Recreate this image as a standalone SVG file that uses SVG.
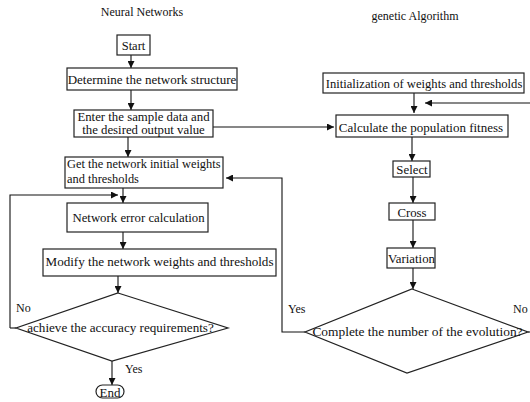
<svg xmlns="http://www.w3.org/2000/svg" width="530" height="402" viewBox="0 0 530 402">
<style>
text{font-family:"Liberation Serif","Times New Roman",serif;font-size:12.8px;fill:#111}
.t{font-size:12px}
.c{text-anchor:middle}
.box{fill:#fff;stroke:#222;stroke-width:1.2}
.ln{fill:none;stroke:#111;stroke-width:1.1}
</style>
<defs>
<marker id="ah" viewBox="0 0 10 10" refX="10" refY="5" markerWidth="7" markerHeight="7" markerUnits="userSpaceOnUse" orient="auto">
<path d="M0,0L10,5L0,10z" fill="#111"/>
</marker>
</defs>
<rect width="530" height="402" fill="#fff"/>
<text class="c t" x="142" y="16">Neural Networks</text>
<text class="c t" x="415" y="20">genetic Algorithm</text>
<g id="connectors">
<path class="ln" d="M131,55V68" marker-end="url(#ah)"/>
<path class="ln" d="M131,90V110" marker-end="url(#ah)"/>
<path class="ln" d="M128,137V157" marker-end="url(#ah)"/>
<path class="ln" d="M213,127H334" marker-end="url(#ah)"/>
<path class="ln" d="M123,188V203" marker-end="url(#ah)"/>
<path class="ln" d="M10,328V195H118" marker-end="url(#ah)"/>
<path class="ln" d="M16,328H10"/>
<path class="ln" d="M123,232V249" marker-end="url(#ah)"/>
<path class="ln" d="M118,276V293" marker-end="url(#ah)"/>
<path class="ln" d="M112,361V385" marker-end="url(#ah)"/>
<path class="ln" d="M414,93V113" marker-end="url(#ah)"/>
<path class="ln" d="M528,332H532V103H425" marker-end="url(#ah)"/>
<path class="ln" d="M412,137V161" marker-end="url(#ah)"/>
<path class="ln" d="M413,177V203" marker-end="url(#ah)"/>
<path class="ln" d="M413,220V248" marker-end="url(#ah)"/>
<path class="ln" d="M413,268V289" marker-end="url(#ah)"/>
<path class="ln" d="M305,332H282V178H226" marker-end="url(#ah)"/>
<text class="t" x="16" y="312">No</text>
<text class="t" x="125" y="373">Yes</text>
<text class="t" x="288" y="313">Yes</text>
<text class="t" x="513" y="313">No</text>
</g>
<g id="start"><rect class="box" x="117" y="35" width="33" height="20"/><text class="c" x="133.5" y="50" style="font-size:12.5px">Start</text></g>
<g id="determine"><rect class="box" x="67" y="68" width="170" height="22"/><text class="c" x="152" y="83.5" style="font-size:13px">Determine the network structure</text></g>
<g id="enter"><rect class="box" x="74" y="110" width="139" height="27"/><text class="c" x="143.5" y="121">Enter the sample data and</text><text class="c" x="143.5" y="134">the desired output value</text></g>
<g id="get"><rect class="box" x="65" y="157" width="158" height="31"/><text x="67" y="168" style="font-size:12.4px">Get the network initial weights</text><text x="67" y="183" style="font-size:12.4px">and thresholds</text></g>
<g id="error"><rect class="box" x="67" y="203" width="141" height="29"/><text class="c" x="138.5" y="222">Network error calculation</text></g>
<g id="modify"><rect class="box" x="43" y="249" width="233" height="27"/><text class="c" x="159.5" y="266" style="font-size:13.1px">Modify the network weights and thresholds</text></g>
<g id="accuracy"><path class="box" d="M118,293L228,328L112,361L16,328Z"/><text class="c" x="120.5" y="332" style="font-size:13.1px">achieve the accuracy requirements?</text></g>
<g id="end"><rect class="box" x="96" y="385" width="28" height="13" rx="6.5"/><text class="c" x="110" y="396.5" style="font-size:13px">End</text></g>
<g id="init"><rect class="box" x="323" y="73" width="201" height="20"/><text class="c" x="424" y="87.5" style="font-size:12.6px">Initialization of weights and thresholds</text></g>
<g id="fitness"><rect class="box" x="336" y="115" width="172" height="22"/><text class="c" x="421" y="131.5" style="font-size:13px">Calculate the population fitness</text></g>
<g id="select"><rect class="box" x="393" y="161" width="37" height="16"/><text class="c" x="412" y="174">Select</text></g>
<g id="cross"><rect class="box" x="389" y="203" width="46" height="17"/><text class="c" x="412" y="216.5">Cross</text></g>
<g id="variation"><rect class="box" x="387" y="248" width="48" height="20"/><text class="c" x="411.5" y="262.5">Variation</text></g>
<g id="evolution"><path class="box" d="M412,289L528,332L407,373L305,332Z"/><text class="c" x="417.5" y="336" style="font-size:13.4px">Complete the number of the evolution?</text></g>
</svg>
